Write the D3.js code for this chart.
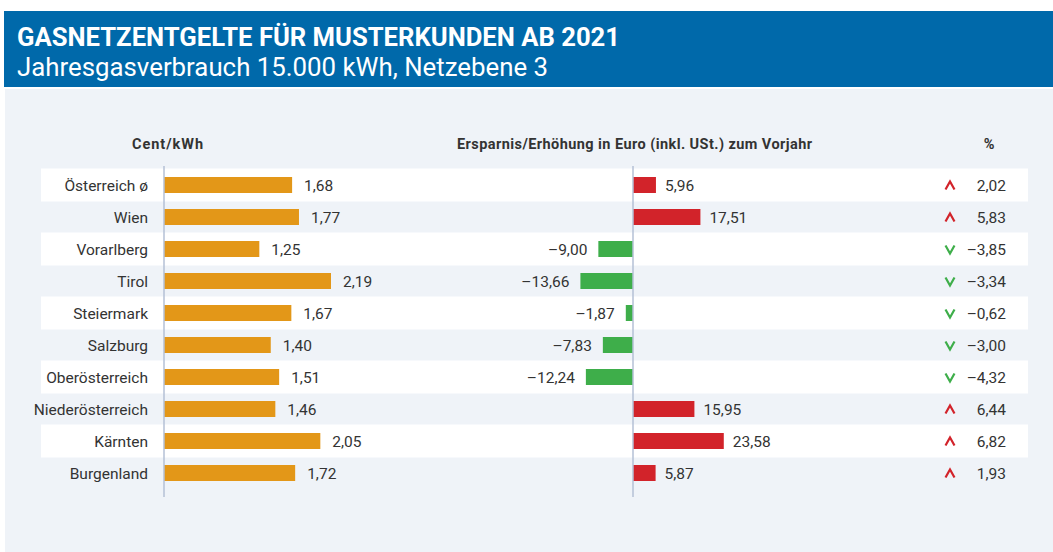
<!DOCTYPE html>
<html>
<head>
<meta charset="utf-8">
<script src="https://cdn.jsdelivr.net/npm/d3@7"></script>
<style>
  body { margin: 0; background: #fff; }
  text { font-family: Roboto, "Liberation Sans", sans-serif; }
</style>
</head>
<body>
<div class="chart"></div>
<script>
var svgWidth = 1053;
var svgHeight = 552;

// data
var regions = ["Österreich ø", "Wien", "Vorarlberg", "Tirol", "Steiermark", "Salzburg",
  "Oberösterreich", "Niederösterreich", "Kärnten", "Burgenland"];
var centPerKwh = [1.68, 1.77, 1.25, 2.19, 1.67, 1.40, 1.51, 1.46, 2.05, 1.72];
var euroChange = [5.96, 17.51, -9.00, -13.66, -1.87, -7.83, -12.24, 15.95, 23.58, 5.87];
var pctChange = [2.02, 5.83, -3.85, -3.34, -0.62, -3.00, -4.32, 6.44, 6.82, 1.93];

var rows = regions.map(function(r, i) {
  return { region: r, cent: centPerKwh[i], euro: euroChange[i], pct: pctChange[i], i: i };
});

var de = d3.formatLocale({ decimal: ",", thousands: ".", grouping: [3], currency: ["", " €"], minus: "\u2013" });
var fmt = de.format(".2f");

var svg = d3.select(".chart")
  .append("svg")
  .attr("width", svgWidth)
  .attr("height", svgHeight);

// header + panel
svg.append("rect").attr("x", 4).attr("y", 11).attr("width", 1049).attr("height", 76).attr("fill", "#0069AA");
svg.append("rect").attr("x", 5).attr("y", 89).attr("width", 1048).attr("height", 463).attr("fill", "#EFF3F8");

svg.append("text")
  .attr("x", 17).attr("y", 46)
  .attr("fill", "#fff")
  .attr("font-size", 25)
  .attr("font-weight", "bold")
  .attr("textLength", 603)
  .attr("lengthAdjust", "spacingAndGlyphs")
  .text("GASNETZENTGELTE FÜR MUSTERKUNDEN AB 2021");

svg.append("text")
  .attr("x", 17).attr("y", 76)
  .attr("fill", "#fff")
  .attr("font-size", 25.5)
  .attr("textLength", 531)
  .attr("lengthAdjust", "spacingAndGlyphs")
  .text("Jahresgasverbrauch 15.000 kWh, Netzebene 3");

// scales
var y = d3.scaleBand()
  .domain(regions)
  .range([169, 489])
  .paddingInner(0);

var xLeft = d3.scaleLinear()
  .domain([0, 2.19])
  .range([164, 331]);

var xRight = d3.scaleLinear()
  .domain([-13.66, 23.58])
  .range([633 - 13.66 * 3.85, 633 + 23.58 * 3.85]);

var barH = 16;
var fs = 15.5;

// alternating row stripes
svg.selectAll("rect.stripe")
  .data(rows.filter(d => d.i % 2 === 0))
  .enter()
  .append("rect")
  .classed("stripe", true)
  .attr("x", 41)
  .attr("y", d => y(d.region) - 0.5)
  .attr("width", 987)
  .attr("height", y.bandwidth() + 1)
  .attr("fill", "#fff");

// column headers
var headers = svg.append("g")
  .attr("font-size", 14.5)
  .attr("font-weight", "bold")
  .attr("fill", "#333")
  .attr("text-anchor", "middle")
  .attr("lengthAdjust", "spacingAndGlyphs");
headers.append("text").attr("x", 167.5).attr("y", 149).attr("textLength", 71).text("Cent/kWh");
headers.append("text").attr("x", 634.5).attr("y", 149).attr("textLength", 355).text("Ersparnis/Erhöhung in Euro (inkl. USt.) zum Vorjahr");
headers.append("text").attr("x", 989).attr("y", 149).text("%");

// category labels
svg.selectAll("text.cat")
  .data(rows)
  .enter()
  .append("text")
  .classed("cat", true)
  .attr("x", 148)
  .attr("y", d => y(d.region) + y.bandwidth() / 2)
  .attr("dy", "0.36em")
  .attr("text-anchor", "end")
  .attr("font-size", fs)
  .attr("fill", "#333")
  .text(d => d.region);

// left bars
svg.selectAll("rect.cent")
  .data(rows)
  .enter()
  .append("rect")
  .classed("cent", true)
  .attr("x", xLeft(0))
  .attr("y", d => y(d.region) + (y.bandwidth() - barH) / 2)
  .attr("width", d => xLeft(d.cent) - xLeft(0))
  .attr("height", barH)
  .attr("fill", "#E39718");

svg.selectAll("text.centLabel")
  .data(rows)
  .enter()
  .append("text")
  .classed("centLabel", true)
  .attr("x", d => xLeft(d.cent) + 12)
  .attr("y", d => y(d.region) + y.bandwidth() / 2)
  .attr("dy", "0.36em")
  .attr("font-size", fs)
  .attr("fill", "#333")
  .text(d => fmt(d.cent));

// right bars
svg.selectAll("rect.euro")
  .data(rows)
  .enter()
  .append("rect")
  .classed("euro", true)
  .attr("x", d => xRight(Math.min(0, d.euro)))
  .attr("y", d => y(d.region) + (y.bandwidth() - barH) / 2)
  .attr("width", d => Math.abs(xRight(d.euro) - xRight(0)))
  .attr("height", barH)
  .attr("fill", d => d.euro >= 0 ? "#D2232A" : "#3EAE4A");

svg.selectAll("text.euroLabel")
  .data(rows)
  .enter()
  .append("text")
  .classed("euroLabel", true)
  .attr("x", d => d.euro >= 0 ? xRight(d.euro) + 9 : xRight(d.euro) - 11)
  .attr("y", d => y(d.region) + y.bandwidth() / 2)
  .attr("dy", "0.36em")
  .attr("text-anchor", d => d.euro >= 0 ? "start" : "end")
  .attr("font-size", fs)
  .attr("fill", "#333")
  .text(d => fmt(d.euro));

// axis lines
[xLeft(0), xRight(0)].forEach(function(x0) {
  svg.append("line")
    .attr("x1", x0).attr("x2", x0)
    .attr("y1", 166).attr("y2", 497)
    .attr("stroke", "#B4C1D6")
    .attr("stroke-width", 1.5);
});

// percent column with arrows
svg.selectAll("path.arrow")
  .data(rows)
  .enter()
  .append("path")
  .classed("arrow", true)
  .attr("transform", d => `translate(950, ${y(d.region) + y.bandwidth() / 2 + 0.5})`)
  .attr("d", d => d.pct >= 0 ? "M-4.5,4L0,-4L4.5,4" : "M-4.5,-4L0,4L4.5,-4")
  .attr("fill", "none")
  .attr("stroke", d => d.pct >= 0 ? "#D2232A" : "#3EAE4A")
  .attr("stroke-width", 2.2);

svg.selectAll("text.pct")
  .data(rows)
  .enter()
  .append("text")
  .classed("pct", true)
  .attr("x", 1006)
  .attr("y", d => y(d.region) + y.bandwidth() / 2)
  .attr("dy", "0.36em")
  .attr("text-anchor", "end")
  .attr("font-size", fs)
  .attr("fill", "#333")
  .text(d => fmt(d.pct));
</script>
</body>
</html>
